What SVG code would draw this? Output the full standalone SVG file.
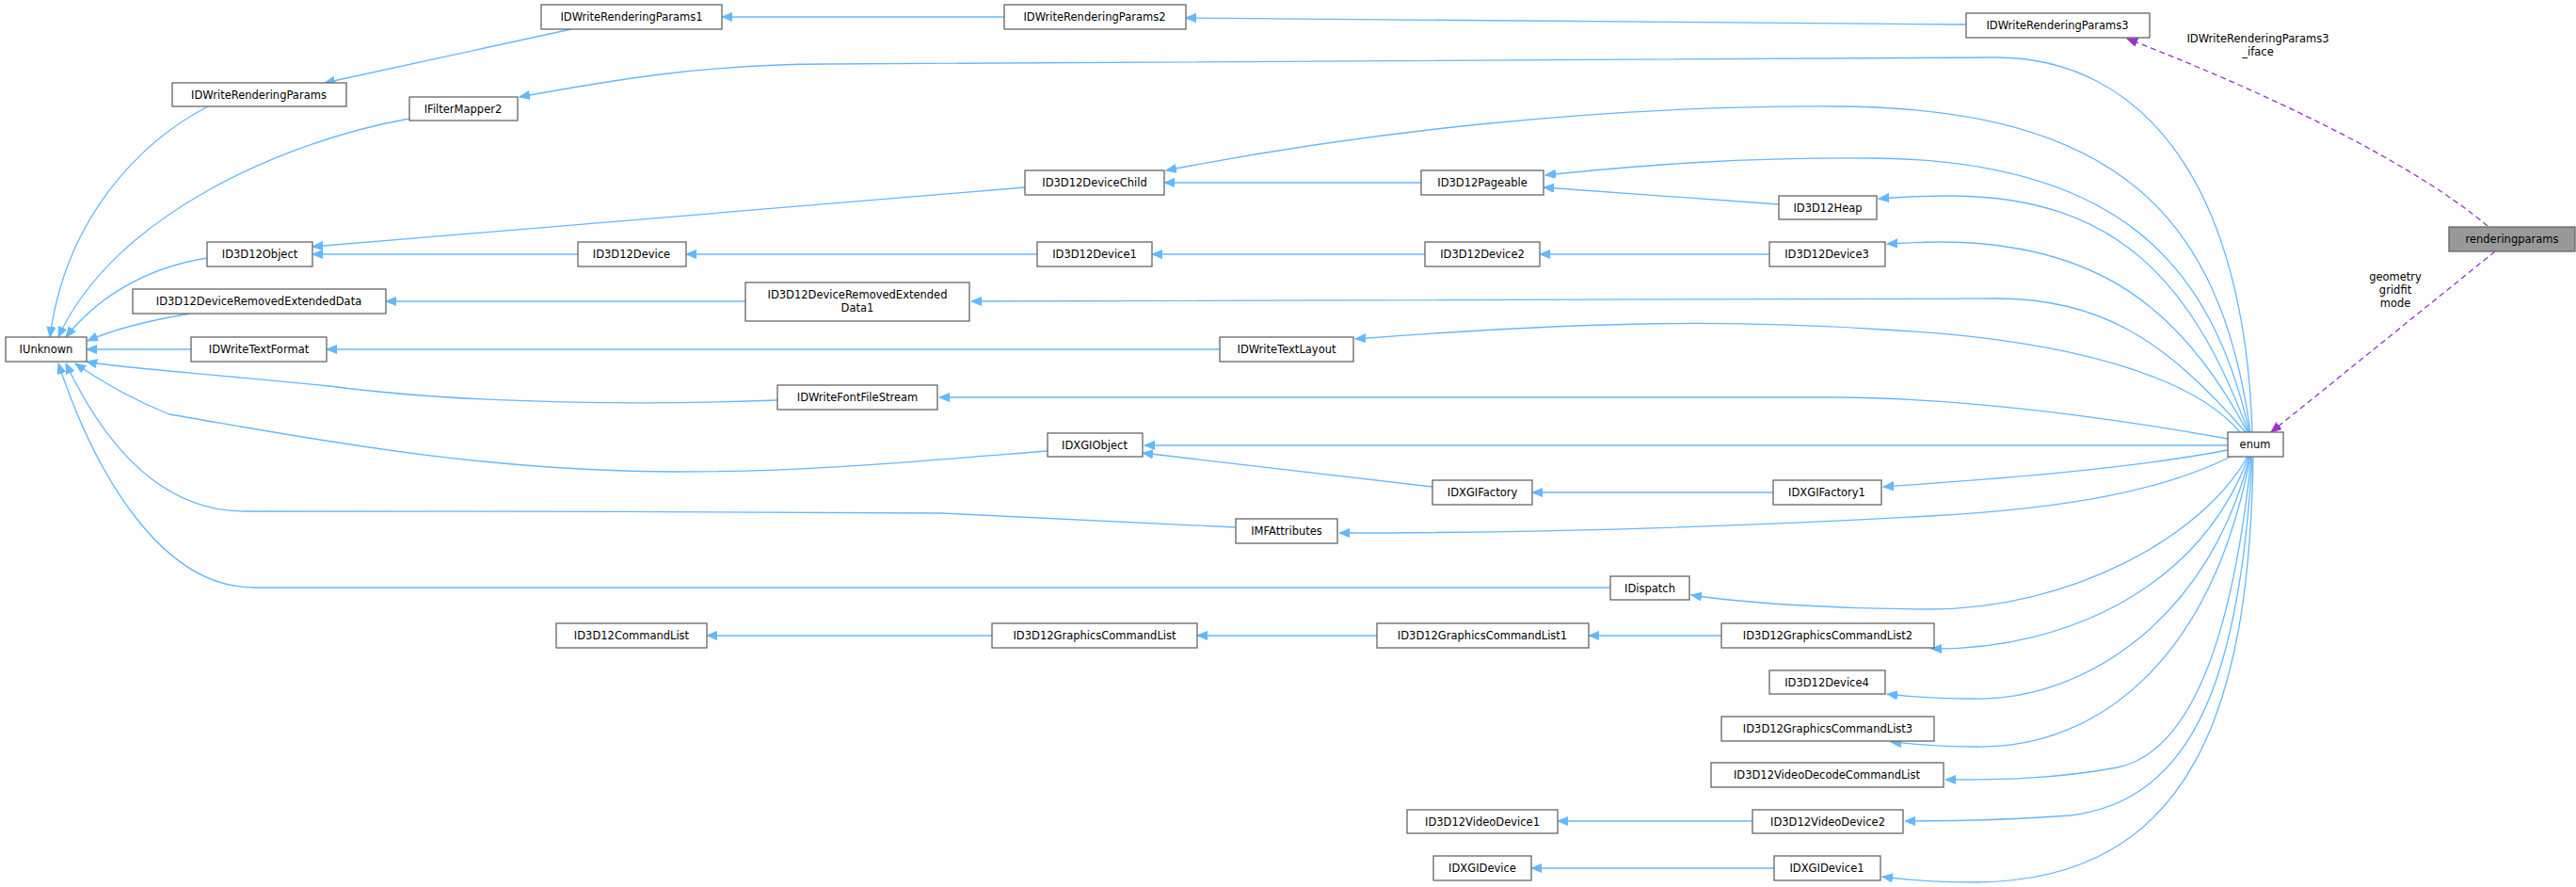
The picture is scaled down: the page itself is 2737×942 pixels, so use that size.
<svg xmlns="http://www.w3.org/2000/svg" width="2737" height="942" viewBox="0 0 2737 942">
<style>
.n rect{fill:#fff;stroke:#666;stroke-width:1.3}
.n text,.lbl{font-family:"DejaVu Sans",sans-serif;font-size:11.5px;fill:#000;text-anchor:middle}
.e{fill:none;stroke:#63b8ff;stroke-width:1.3;marker-end:url(#a)}
.d{fill:none;stroke:#9a32cd;stroke-width:1.3;stroke-dasharray:6,4;marker-end:url(#p)}
</style>
<defs>
<marker id="a" markerUnits="userSpaceOnUse" markerWidth="12" markerHeight="10" refX="11" refY="4.5" orient="auto"><path d="M0,0 L11,4.5 L0,9 z" fill="#63b8ff" stroke="#63b8ff"/></marker>
<marker id="p" markerUnits="userSpaceOnUse" markerWidth="12" markerHeight="10" refX="11" refY="4.5" orient="auto"><path d="M0,0 L11,4.5 L0,9 z" fill="#9a32cd" stroke="#9a32cd"/></marker>
</defs>
<rect width="2737" height="942" fill="#fff"/>
<g id="edges">
<path class="e" d="M607,31 L345,88"/>
<path class="e" d="M1067,18 L767,18"/>
<path class="e" d="M2089,26 C1800,24 1500,20 1260,19"/>
<path class="e" d="M221,113 C150,150 70,230 53,358"/>
<path class="e" d="M435,126 C300,150 120,230 62,358"/>
<path class="e" d="M220,274 C150,285 100,320 70,358"/>
<path class="e" d="M202,333 C160,340 120,350 93,362"/>
<path class="e" d="M203,371 L92,371"/>
<path class="e" d="M826,425 C700,430 500,430 350,410 C200,395 120,390 92,384"/>
<path class="e" d="M1113,479 C950,492 850,501 720,501 C500,501 300,460 180,440 C130,420 100,400 80,386"/>
<path class="e" d="M1313,560 L1000,545 C800,543 400,543 260,543 C170,543 110,470 70,386"/>
<path class="e" d="M1711,624 L270,624 C170,624 100,500 62,386"/>
<path class="e" d="M1089,199 L332,262"/>
<path class="e" d="M614,270 L332,270"/>
<path class="e" d="M1102,270 L729,270"/>
<path class="e" d="M1510,194 L1237,194"/>
<path class="e" d="M1890,217 L1640,199"/>
<path class="e" d="M1514,270 L1224,270"/>
<path class="e" d="M1880,270 L1636,270"/>
<path class="e" d="M792,320 L410,320"/>
<path class="e" d="M1296,371 L347,371"/>
<path class="e" d="M1522,517 L1214,481"/>
<path class="e" d="M1884,523 L1628,523"/>
<path class="e" d="M1054,675 L751,675"/>
<path class="e" d="M1463,675 L1272,675"/>
<path class="e" d="M1829,675 L1688,675"/>
<path class="e" d="M1862,872 L1655,872"/>
<path class="e" d="M1885,922 L1627,922"/>
<path class="e" d="M2393,459 C2385,200 2280,61 2120,61 C1900,60 1500,68 880,68 C750,68 650,85 552,103"/>
<path class="e" d="M2391,459 C2360,230 2250,114 1950,113 C1700,112 1450,140 1239,181"/>
<path class="e" d="M2390,459 C2350,280 2250,170 1990,168 C1850,167 1750,175 1642,186"/>
<path class="e" d="M2389,459 C2330,300 2250,210 2076,208 C2040,208 2020,209 1996,211"/>
<path class="e" d="M2388,459 C2320,330 2230,257 2061,257 C2040,257 2025,258 2005,259"/>
<path class="e" d="M2386,459 C2300,360 2230,316 2118,317 C1950,318 1800,320 1032,320"/>
<path class="e" d="M2380,459 C2330,400 2200,360 2000,350 C1850,340 1700,340 1440,360"/>
<path class="e" d="M2367,466 C2250,445 2100,423 1950,422 L998,422"/>
<path class="e" d="M2367,473 L1216,473"/>
<path class="e" d="M2367,478 C2250,500 2100,510 2001,517"/>
<path class="e" d="M2370,485 C2300,520 2200,540 2050,548 C1800,562 1600,566 1423,566"/>
<path class="e" d="M2388,485 C2340,570 2200,647 2050,647 C1950,647 1850,640 1797,632"/>
<path class="e" d="M2389,485 C2340,620 2200,690 2052,689"/>
<path class="e" d="M2390,485 C2350,650 2220,745 2095,742 C2060,742 2030,740 2005,737"/>
<path class="e" d="M2391,485 C2350,700 2230,795 2100,793 C2060,793 2030,790 2009,788"/>
<path class="e" d="M2392,485 C2370,700 2320,800 2250,815 C2180,828 2120,828 2067,828"/>
<path class="e" d="M2393,485 C2380,720 2330,850 2200,866 C2120,872 2060,872 2024,872"/>
<path class="e" d="M2394,485 C2390,750 2330,935 2100,937 C2060,937 2030,935 2000,931"/>
<path class="d" d="M2643,240 C2560,170 2400,95 2260,41"/>
<path class="d" d="M2651,267 L2413,459"/>
<text class="lbl" x="2399" y="45">IDWriteRenderingParams3</text>
<text class="lbl" x="2399" y="59">_iface</text>
<text class="lbl" x="2545" y="298">geometry</text>
<text class="lbl" x="2545" y="312">gridfit</text>
<text class="lbl" x="2545" y="326">mode</text>
</g>
<g id="n_rp1" class="n"><rect x="575" y="5" width="192" height="26"/><text x="671" y="22">IDWriteRenderingParams1</text></g>
<g id="n_rp2" class="n"><rect x="1067" y="5" width="193" height="26"/><text x="1163" y="22">IDWriteRenderingParams2</text></g>
<g id="n_rp3" class="n"><rect x="2089" y="14" width="195" height="26"/><text x="2186" y="31">IDWriteRenderingParams3</text></g>
<g id="n_rp" class="n"><rect x="183" y="88" width="185" height="25"/><text x="275" y="105">IDWriteRenderingParams</text></g>
<g id="n_fm2" class="n"><rect x="435" y="103" width="115" height="25"/><text x="492" y="120">IFilterMapper2</text></g>
<g id="n_child" class="n"><rect x="1089" y="181" width="148" height="26"/><text x="1163" y="198">ID3D12DeviceChild</text></g>
<g id="n_pageable" class="n"><rect x="1510" y="181" width="130" height="26"/><text x="1575" y="198">ID3D12Pageable</text></g>
<g id="n_heap" class="n"><rect x="1890" y="208" width="104" height="25"/><text x="1942" y="225">ID3D12Heap</text></g>
<g id="n_obj" class="n"><rect x="220" y="257" width="112" height="26"/><text x="276" y="274">ID3D12Object</text></g>
<g id="n_dev" class="n"><rect x="614" y="257" width="115" height="26"/><text x="671" y="274">ID3D12Device</text></g>
<g id="n_dev1" class="n"><rect x="1102" y="257" width="122" height="26"/><text x="1163" y="274">ID3D12Device1</text></g>
<g id="n_dev2" class="n"><rect x="1514" y="257" width="122" height="26"/><text x="1575" y="274">ID3D12Device2</text></g>
<g id="n_dev3" class="n"><rect x="1880" y="257" width="123" height="26"/><text x="1941" y="274">ID3D12Device3</text></g>
<g id="n_dred" class="n"><rect x="141" y="307" width="269" height="26"/><text x="275" y="324">ID3D12DeviceRemovedExtendedData</text></g>
<g id="n_dred1" class="n"><rect x="792" y="300" width="238" height="41"/><text x="911" y="317">ID3D12DeviceRemovedExtended</text><text x="911" y="331">Data1</text></g>
<g id="n_iunk" class="n"><rect x="6" y="358" width="86" height="26"/><text x="49" y="375">IUnknown</text></g>
<g id="n_tf" class="n"><rect x="203" y="358" width="144" height="26"/><text x="275" y="375">IDWriteTextFormat</text></g>
<g id="n_tl" class="n"><rect x="1296" y="358" width="142" height="26"/><text x="1367" y="375">IDWriteTextLayout</text></g>
<g id="n_ffs" class="n"><rect x="826" y="409" width="170" height="26"/><text x="911" y="426">IDWriteFontFileStream</text></g>
<g id="n_dxgiobj" class="n"><rect x="1113" y="460" width="101" height="25"/><text x="1163" y="477">IDXGIObject</text></g>
<g id="n_enum" class="n"><rect x="2367" y="459" width="59" height="26"/><text x="2396" y="476">enum</text></g>
<g id="n_rparams" class="n"><rect x="2602" y="241" width="134" height="26" style="fill:#999"/><text x="2669" y="258">renderingparams</text></g>
<g id="n_fac" class="n"><rect x="1522" y="510" width="106" height="26"/><text x="1575" y="527">IDXGIFactory</text></g>
<g id="n_fac1" class="n"><rect x="1884" y="510" width="115" height="26"/><text x="1941" y="527">IDXGIFactory1</text></g>
<g id="n_mfa" class="n"><rect x="1313" y="551" width="108" height="26"/><text x="1367" y="568">IMFAttributes</text></g>
<g id="n_disp" class="n"><rect x="1711" y="612" width="84" height="25"/><text x="1753" y="629">IDispatch</text></g>
<g id="n_cl" class="n"><rect x="591" y="662" width="160" height="26"/><text x="671" y="679">ID3D12CommandList</text></g>
<g id="n_gcl" class="n"><rect x="1054" y="662" width="218" height="26"/><text x="1163" y="679">ID3D12GraphicsCommandList</text></g>
<g id="n_gcl1" class="n"><rect x="1463" y="662" width="225" height="26"/><text x="1575" y="679">ID3D12GraphicsCommandList1</text></g>
<g id="n_gcl2" class="n"><rect x="1829" y="662" width="226" height="26"/><text x="1942" y="679">ID3D12GraphicsCommandList2</text></g>
<g id="n_dev4" class="n"><rect x="1880" y="712" width="123" height="25"/><text x="1941" y="729">ID3D12Device4</text></g>
<g id="n_gcl3" class="n"><rect x="1829" y="761" width="226" height="26"/><text x="1942" y="778">ID3D12GraphicsCommandList3</text></g>
<g id="n_vdcl" class="n"><rect x="1818" y="810" width="247" height="26"/><text x="1941" y="827">ID3D12VideoDecodeCommandList</text></g>
<g id="n_vd1" class="n"><rect x="1495" y="860" width="160" height="25"/><text x="1575" y="877">ID3D12VideoDevice1</text></g>
<g id="n_vd2" class="n"><rect x="1862" y="860" width="160" height="25"/><text x="1942" y="877">ID3D12VideoDevice2</text></g>
<g id="n_dxgidev" class="n"><rect x="1523" y="909" width="104" height="26"/><text x="1575" y="926">IDXGIDevice</text></g>
<g id="n_dxgidev1" class="n"><rect x="1885" y="909" width="113" height="26"/><text x="1941" y="926">IDXGIDevice1</text></g>
</svg>
